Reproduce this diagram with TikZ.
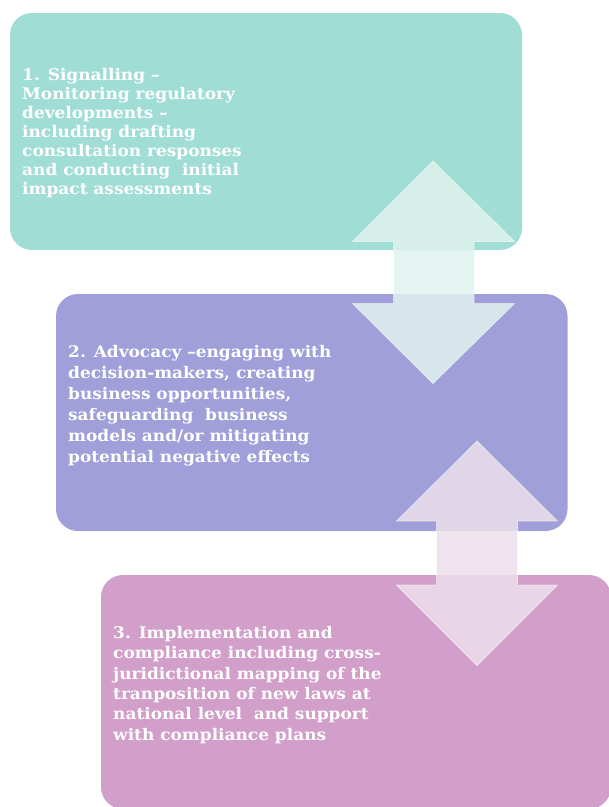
\documentclass[tikz,border=0pt]{standalone}
\usepackage{fontspec}
\setmainfont{DejaVu Serif}[FakeStretch=1.06]
\definecolor{tealbox}{HTML}{A0DDD5}
\definecolor{purplebox}{HTML}{A09FD9}
\definecolor{pinkbox}{HTML}{D19FC9}
\definecolor{arrowA}{HTML}{DFF2ED}
\definecolor{arrowB}{HTML}{ECE0EB}
\tikzset{
  stagebox/.style={rounded corners=22pt},
  stagetext/.style={text=white, align=left, inner sep=0pt, anchor=north west},
  dblarrow/.style={draw=white, draw opacity=0.5, line width=0.8pt, fill opacity=0.86}
}
\begin{document}
\begin{tikzpicture}[x=1pt,y=-1pt]
\useasboundingbox (0,0) rectangle (609,807);
% box 1
\fill[tealbox, stagebox] (10,13) rectangle (522,250);
\node[stagetext, font=\bfseries\fontsize{16}{18.9}\selectfont] (t1) at (22,68.3)
 {1. Signalling --\\Monitoring regulatory\\developments --\\including drafting\\consultation responses\\and conducting\ \ initial\\impact assessments};
% box 2
\fill[purplebox, stagebox] (56,294) rectangle (567.5,531);
\node[stagetext, font=\bfseries\fontsize{16}{20.9}\selectfont] (t2) at (68,345.3)
 {2. Advocacy --engaging with\\decision-makers, creating\\business opportunities,\\safeguarding\ \ business\\models and/or mitigating\\potential negative effects};
% arrow 1
\path[dblarrow, fill=arrowA] (433,161) -- (514.5,241.5) -- (474,241.5) -- (474,303.5) -- (514.5,303.5)
  -- (433,383.5) -- (352.5,303.5) -- (393.5,303.5) -- (393.5,241.5) -- (352.5,241.5) -- cycle;
% box 3
\fill[pinkbox, stagebox] (101,575) rectangle (611,809);
\node[stagetext, font=\bfseries\fontsize{16}{20.3}\selectfont] (t3) at (113,626.3)
 {3. Implementation and\\compliance including cross-\\juridictional mapping of the\\tranposition of new laws at\\national level\ \ and support\\with compliance plans};
% arrow 2
\path[dblarrow, fill=arrowB] (477,441) -- (557.5,521) -- (517.5,521) -- (517.5,585) -- (557.5,585)
  -- (477,665.5) -- (396.5,585) -- (436.5,585) -- (436.5,521) -- (396.5,521) -- cycle;
\end{tikzpicture}
\end{document}
